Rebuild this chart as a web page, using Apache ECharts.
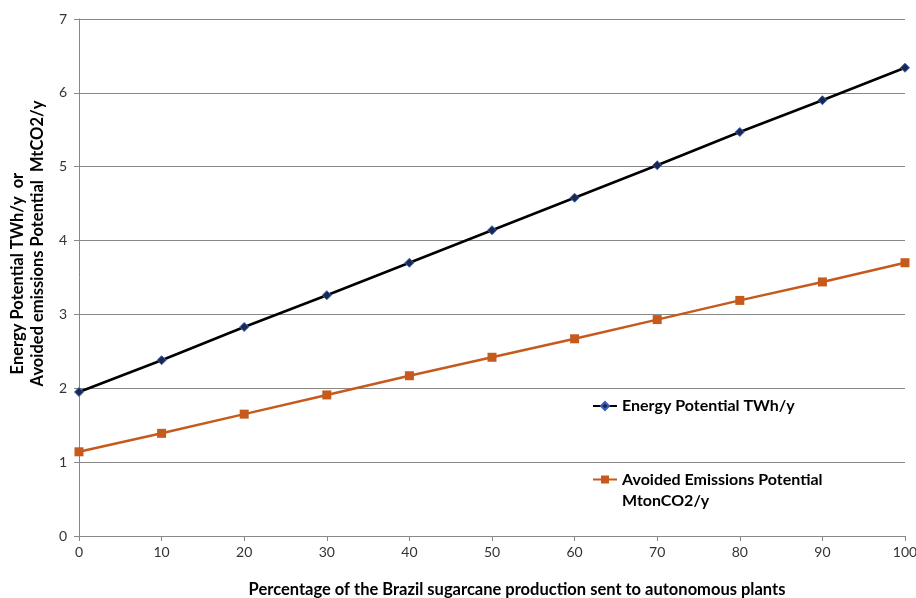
<!DOCTYPE html>
<html>
<head>
<meta charset="UTF-8">
<title>Energy and avoided emissions potential</title>
<script src="https://cdn.jsdelivr.net/npm/echarts@6/dist/echarts.min.js"></script>
<style>
  html, body { margin: 0; padding: 0; background: #fff; }
  #main { width: 916px; height: 598px; }
</style>
</head>
<body>
<div id="main"></div>
<script>
// percentage of sugarcane sent to autonomous plants
var share = [0, 10, 20, 30, 40, 50, 60, 70, 80, 90, 100];
// TWh/y
var energy = [1.95, 2.38, 2.83, 3.26, 3.70, 4.14, 4.58, 5.02, 5.47, 5.90, 6.34];
// MtonCO2/y
var avoided = [1.14, 1.39, 1.65, 1.91, 2.17, 2.42, 2.67, 2.93, 3.19, 3.44, 3.70];

var nameEnergy = 'Energy Potential TWh/y';
var nameAvoided = 'Avoided Emissions Potential\nMtonCO2/y';

function pairs(xs, ys) {
  return xs.map(function (x, i) { return [x, ys[i]]; });
}

var font = 'Lato, "Open Sans", sans-serif';
var myChart = echarts.init(document.getElementById('main'));

var option = {
  backgroundColor: '#fff',
  animation: false,
  textStyle: { fontFamily: font },
  grid: { left: 79, right: 11, top: 19, bottom: 62, outerBoundsMode: 'none' },
  legend: [
    {
      data: [nameEnergy],
      left: 592, top: 398, padding: 0,
      itemWidth: 24, itemHeight: 10, itemGap: 4,
      textStyle: { fontFamily: font, fontSize: 16, fontWeight: 'bold', color: '#000' }
    },
    {
      // empty first line keeps the marker level with "Avoided ..."
      data: [nameAvoided],
      formatter: function (name) { return '\n' + name; },
      left: 592, top: 448, padding: 0,
      itemWidth: 24, itemHeight: 10, itemGap: 4,
      textStyle: { fontFamily: font, fontSize: 16, fontWeight: 'bold', color: '#000', lineHeight: 21 }
    }
  ],
  xAxis: {
    type: 'value',
    min: 0, max: 100, interval: 10,
    name: 'Percentage of the Brazil sugarcane production sent to autonomous plants',
    nameLocation: 'middle',
    nameGap: 45,
    nameTextStyle: { fontFamily: font, fontSize: 16.5, fontWeight: 'bold', color: '#000', padding: [0, 0, 0, 50] },
    axisLine: { lineStyle: { color: '#888', width: 1 } },
    axisTick: { show: true, length: 5, lineStyle: { color: '#888' } },
    axisLabel: { fontFamily: font, fontSize: 14, color: '#333', margin: 9 },
    splitLine: { show: false }
  },
  yAxis: {
    type: 'value',
    min: 0, max: 7, interval: 1,
    name: 'Energy Potential TWh/y  or               \nAvoided emissions Potential  MtCO2/y',
    nameLocation: 'middle',
    nameGap: 31,
    nameTextStyle: { fontFamily: font, fontSize: 16.5, fontWeight: 'bold', color: '#000', lineHeight: 20, padding: [0, 0, 0, 68] },
    axisLine: { show: true, lineStyle: { color: '#888', width: 1 } },
    axisTick: { show: true, length: 5, lineStyle: { color: '#888' } },
    axisLabel: { fontFamily: font, fontSize: 14, color: '#333', margin: 12 },
    splitLine: { show: true, lineStyle: { color: '#888', width: 1 } }
  },
  series: [
    {
      name: nameEnergy,
      type: 'line',
      data: pairs(share, energy),
      symbol: 'diamond',
      symbolSize: 9,
      lineStyle: { color: '#000', width: 2.5 },
      itemStyle: { color: '#1b2a4a', borderColor: '#3a5fc0', borderWidth: 1 },
      z: 3
    },
    {
      name: nameAvoided,
      type: 'line',
      data: pairs(share, avoided),
      symbol: 'rect',
      symbolSize: 9,
      lineStyle: { color: '#c55a1c', width: 2.5 },
      itemStyle: { color: '#c55a1c', borderWidth: 0 },
      z: 2
    }
  ]
};

myChart.setOption(option);
</script>
</body>
</html>
